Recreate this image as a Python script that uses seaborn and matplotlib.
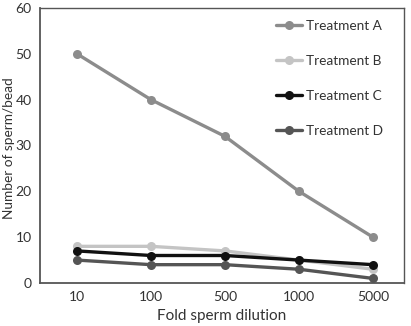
import matplotlib
matplotlib.use("Agg")
import matplotlib.pyplot as plt
import seaborn as sns
import pandas as pd

dilutions = ["10", "100", "500", "1000", "5000"]
treat_a = [50, 40, 32, 20, 10]
treat_b = [8, 8, 7, 5, 3]
treat_c = [7, 6, 6, 5, 4]
treat_d = [5, 4, 4, 3, 1]
series_names = ["Treatment A", "Treatment B", "Treatment C", "Treatment D"]
colors = ["#8c8c8c", "#c4c4c4", "#111111", "#555555"]

sns.set_style("white")
plt.rcParams['font.family'] = ['Lato', 'DejaVu Sans']

rows = []
for name, vals in zip(series_names, [treat_a, treat_b, treat_c, treat_d]):
    for i, (d, v) in enumerate(zip(dilutions, vals)):
        rows.append({"idx": i, "dilution": d, "value": v, "series": name})
df = pd.DataFrame(rows)

fig = plt.figure(figsize=(4.11, 3.26), dpi=100)
ax = fig.add_axes([40/411, 1-283/326, (404-40)/411, (283-8)/326])
sns.lineplot(data=df, x="idx", y="value", hue="series", palette=colors,
             marker="o", markersize=6.5, linewidth=2.4, markeredgewidth=0, ax=ax)

ax.set_xlim(-0.5, 4.42)
ax.set_ylim(0, 60)
ax.set_xticks(range(len(dilutions)))
ax.set_xticklabels(dilutions)
ax.set_yticks(range(0, 61, 10))
ax.tick_params(axis='both', labelsize=10, colors="#333333", length=0, pad=6)
ax.set_xlabel("Fold sperm dilution", fontsize=11, color="#333333", labelpad=4)
ax.set_ylabel("Number of sperm/bead", fontsize=9.8, color="#333333")
ax.yaxis.set_label_coords(-0.068, 0.49)
for s in ax.spines.values():
    s.set_color("#555555")
    s.set_linewidth(1.0)
ax.spines['left'].set_linewidth(1.3)
ax.spines['bottom'].set_linewidth(1.3)

leg = ax.legend(loc="upper right", frameon=False, fontsize=9.8, labelspacing=1.68,
                handlelength=1.9, handletextpad=0.25, borderaxespad=0.5,
                bbox_to_anchor=(0.975, 1.0))
for t in leg.get_texts():
    t.set_color("#333333")

fig.savefig("out.png", dpi=100)
